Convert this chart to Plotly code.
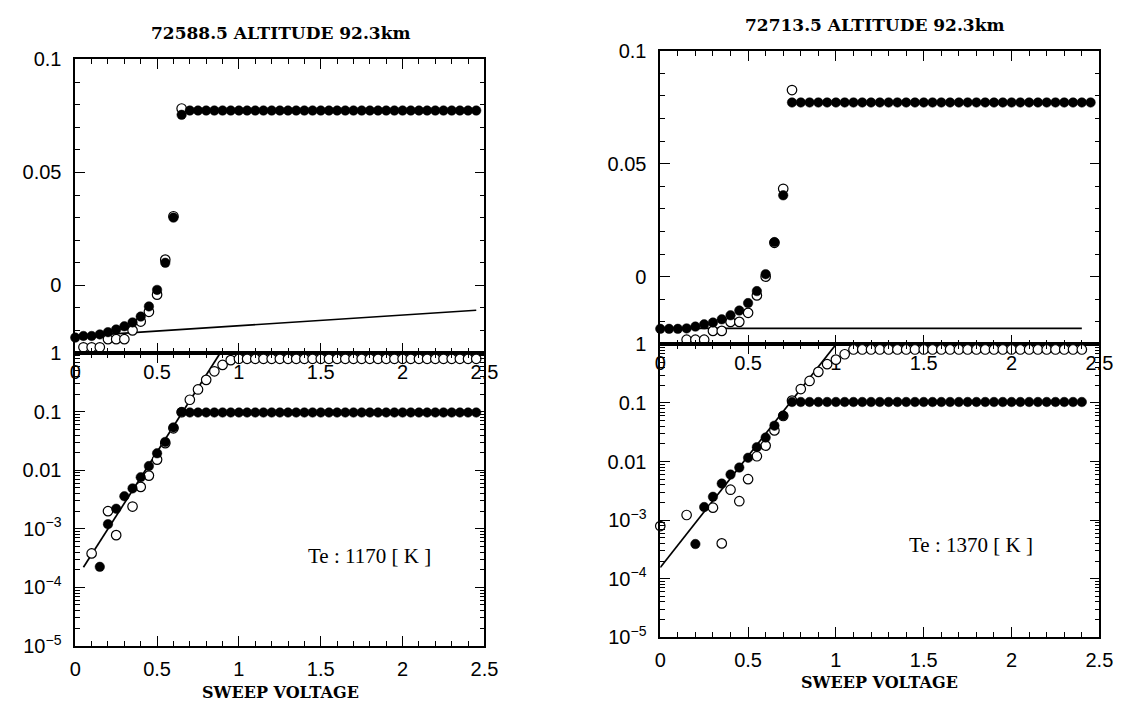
import plotly.graph_objects as go

W, H = 1135, 717

# ---------------- data ----------------
# Left: 72588.5
L_TOP_FILLED_X = [0.0, 0.05, 0.1, 0.15, 0.2, 0.25, 0.3, 0.35, 0.4, 0.45, 0.5, 0.55, 0.6, 0.65,
                  0.7, 0.75, 0.8, 0.85, 0.9, 0.95, 1.0, 1.05, 1.1, 1.15, 1.2, 1.25, 1.3, 1.35, 1.4,
                  1.45, 1.5, 1.55, 1.6, 1.65, 1.7, 1.75, 1.8, 1.85, 1.9, 1.95, 2.0, 2.05, 2.1, 2.15,
                  2.2, 2.25, 2.3, 2.35, 2.4, 2.45]
L_TOP_FILLED_Y = [-0.0231, -0.0224, -0.0224, -0.0217, -0.0207, -0.0195, -0.0181, -0.0164, -0.0138,
                  -0.0093, -0.0020, 0.0100, 0.0300, 0.0755,
                  0.0774, 0.0774, 0.0774, 0.0774, 0.0774, 0.0774, 0.0774, 0.0774, 0.0774, 0.0774,
                  0.0774, 0.0774, 0.0774, 0.0774, 0.0774, 0.0774, 0.0774, 0.0774, 0.0774, 0.0774,
                  0.0774, 0.0774, 0.0774, 0.0774, 0.0774, 0.0774, 0.0774, 0.0774, 0.0774, 0.0774,
                  0.0774, 0.0774, 0.0774, 0.0774, 0.0774, 0.0774]
L_TOP_OPEN_X = [0.05, 0.1, 0.15, 0.2, 0.25, 0.3, 0.35, 0.4, 0.45, 0.5, 0.55, 0.6, 0.65]
L_TOP_OPEN_Y = [-0.0274, -0.0274, -0.0274, -0.0238, -0.0238, -0.0238, -0.0199, -0.0160, -0.0117,
                -0.0041, 0.0114, 0.0306, 0.0783]
L_TOP_LINE_X = [0.0, 2.45]
L_TOP_LINE_Y = [-0.0226, -0.0110]

L_BOT_FILLED_X = [0.15, 0.2, 0.25, 0.3, 0.35, 0.4, 0.45, 0.5, 0.55, 0.6, 0.65,
                  0.7, 0.75, 0.8, 0.85, 0.9, 0.95, 1.0, 1.05, 1.1, 1.15, 1.2, 1.25, 1.3, 1.35, 1.4,
                  1.45, 1.5, 1.55, 1.6, 1.65, 1.7, 1.75, 1.8, 1.85, 1.9, 1.95, 2.0, 2.05, 2.1, 2.15,
                  2.2, 2.25, 2.3, 2.35, 2.4, 2.45]
L_BOT_FILLED_Y = [2.24e-4, 1.2e-3, 2.2e-3, 3.6e-3, 4.9e-3, 7.6e-3, 0.0118, 0.0195, 0.0305, 0.054, 0.099,
                  0.097, 0.097, 0.097, 0.097, 0.097, 0.097, 0.097, 0.097, 0.097, 0.097, 0.097, 0.097,
                  0.097, 0.097, 0.097, 0.097, 0.097, 0.097, 0.097, 0.097, 0.097, 0.097, 0.097, 0.097,
                  0.097, 0.097, 0.097, 0.097, 0.097, 0.097, 0.097, 0.097, 0.097, 0.097, 0.097, 0.097]
L_BOT_OPEN_X = [0.1, 0.2, 0.25, 0.35, 0.4, 0.45, 0.5, 0.55, 0.6, 0.65, 0.7, 0.75, 0.8, 0.85, 0.9, 0.95,
                1.0, 1.05, 1.1, 1.15, 1.2, 1.25, 1.3, 1.35, 1.4, 1.45, 1.5, 1.55, 1.6, 1.65, 1.7,
                1.75, 1.8, 1.85, 1.9, 1.95, 2.0, 2.05, 2.1, 2.15, 2.2, 2.25, 2.3, 2.35, 2.4, 2.45]
L_BOT_OPEN_Y = [3.8e-4, 2.0e-3, 7.8e-4, 2.4e-3, 5.2e-3, 8.1e-3, 0.0152, 0.029, 0.052, 0.098, 0.16,
                0.24, 0.35, 0.49, 0.63, 0.76,
                0.80, 0.80, 0.80, 0.80, 0.80, 0.80, 0.80, 0.80, 0.80, 0.80, 0.80, 0.80, 0.80, 0.80,
                0.80, 0.80, 0.80, 0.80, 0.80, 0.80, 0.80, 0.80, 0.80, 0.80, 0.80, 0.80, 0.80, 0.80,
                0.80, 0.80]
L_BOT_LINE_X = [0.05, 0.885]
L_BOT_LINE_Y = [2.2e-4, 1.0]

# Right: 72713.5
R_TOP_FILLED_X = L_TOP_FILLED_X
R_TOP_FILLED_Y = [-0.0231, -0.0231, -0.0231, -0.0229, -0.0221, -0.0211, -0.0203, -0.0189, -0.0171,
                  -0.0150, -0.0117, -0.0064, 0.0011, 0.0153, 0.0360,
                  0.0771, 0.0771, 0.0771, 0.0771, 0.0771, 0.0771, 0.0771, 0.0771, 0.0771, 0.0771,
                  0.0771, 0.0771, 0.0771, 0.0771, 0.0771, 0.0771, 0.0771, 0.0771, 0.0771, 0.0771,
                  0.0771, 0.0771, 0.0771, 0.0771, 0.0771, 0.0771, 0.0771, 0.0771, 0.0771, 0.0771,
                  0.0771, 0.0771, 0.0771, 0.0771, 0.0771]
R_TOP_OPEN_X = [0.15, 0.2, 0.25, 0.3, 0.35, 0.4, 0.45, 0.5, 0.55, 0.6, 0.65, 0.7, 0.75]
R_TOP_OPEN_Y = [-0.0279, -0.0279, -0.0279, -0.0240, -0.0240, -0.0200, -0.0200, -0.0160, -0.0083,
                0.0000, 0.0150, 0.0389, 0.0826]
R_TOP_LINE_X = [0.0, 2.4]
R_TOP_LINE_Y = [-0.0229, -0.0229]

R_BOT_FILLED_X = [0.2, 0.25, 0.3, 0.35, 0.4, 0.45, 0.5, 0.55, 0.6, 0.65, 0.7, 0.75,
                  0.8, 0.85, 0.9, 0.95, 1.0, 1.05, 1.1, 1.15, 1.2, 1.25, 1.3, 1.35, 1.4,
                  1.45, 1.5, 1.55, 1.6, 1.65, 1.7, 1.75, 1.8, 1.85, 1.9, 1.95, 2.0, 2.05, 2.1, 2.15,
                  2.2, 2.25, 2.3, 2.35, 2.4]
R_BOT_FILLED_Y = [3.9e-4, 1.67e-3, 2.5e-3, 4.2e-3, 6.0e-3, 7.9e-3, 0.0116, 0.0176, 0.0257, 0.041, 0.061,
                  0.104,
                  0.104, 0.104, 0.104, 0.104, 0.104, 0.104, 0.104, 0.104, 0.104, 0.104, 0.104, 0.104,
                  0.104, 0.104, 0.104, 0.104, 0.104, 0.104, 0.104, 0.104, 0.104, 0.104, 0.104, 0.104,
                  0.104, 0.104, 0.104, 0.104, 0.104, 0.104, 0.104, 0.104, 0.104]
R_BOT_OPEN_X = [0.0, 0.15, 0.3, 0.35, 0.4, 0.45, 0.5, 0.55, 0.6, 0.65, 0.7, 0.75, 0.8, 0.85, 0.9, 0.95,
                1.0, 1.05, 1.1, 1.15, 1.2, 1.25, 1.3, 1.35, 1.4, 1.45, 1.5, 1.55, 1.6, 1.65, 1.7,
                1.75, 1.8, 1.85, 1.9, 1.95, 2.0, 2.05, 2.1, 2.15, 2.2, 2.25, 2.3, 2.35, 2.4]
R_BOT_OPEN_Y = [7.9e-4, 1.22e-3, 1.63e-3, 4.0e-4, 3.3e-3, 2.1e-3, 5.0e-3, 0.0123, 0.0187, 0.034, 0.06,
                0.11, 0.173, 0.238, 0.34, 0.46, 0.55, 0.68,
                0.82, 0.82, 0.82, 0.82, 0.82, 0.82, 0.82, 0.82, 0.82, 0.82, 0.82, 0.82, 0.82, 0.82,
                0.82, 0.82, 0.82, 0.82, 0.82, 0.82, 0.82, 0.82, 0.82, 0.82, 0.82, 0.82, 0.82]
R_BOT_LINE_X = [0.0, 1.0]
R_BOT_LINE_Y = [1.55e-4, 1.0]

TITLES = ["72588.5 ALTITUDE 92.3km", "72713.5 ALTITUDE 92.3km"]
TE_LABELS = ["Te : 1170 [ K ]", "Te : 1370 [ K ]"]
XLABEL = "SWEEP VOLTAGE"

LIN_TICKVALS = [0, 0.05, 0.1]
LIN_TICKTEXT = ["0", "0.05", "0.1"]
LOG_TICKVALS = [1e-5, 1e-4, 1e-3, 1e-2, 1e-1, 1]
LOG_TICKTEXT = ["10<sup>\u22125</sup>", "10<sup>\u22124</sup>", "10<sup>\u22123</sup>", "0.01", "0.1", "1"]
LOG_MINOR = [m * d for d in [1e-5, 1e-4, 1e-3, 1e-2, 1e-1] for m in range(2, 10)]
X_TICKVALS = [0, 0.5, 1, 1.5, 2, 2.5]
X_TICKTEXT = ["0", "0.5", "1", "1.5", "2", "2.5"]

# ---------------- layout geometry (pixels of the 1135x717 target) ----------------
def px_x(a, b):
    return [a / W, b / W]

def px_y(top, bot):
    return [1 - bot / H, 1 - top / H]

PANELS = {
    "L": dict(x=(70.5, 487), top=(50, 353), bot=(353, 655)),
    "R": dict(x=(666, 1113), top=(41, 344), bot=(344, 646)),
}

fig = go.Figure()

TICKFONT = dict(family="Liberation Sans", size=20, color="black")
SERIF = "DejaVu Serif"

def axis_common():
    return dict(showline=True, linecolor="black", linewidth=1.6, mirror="ticks",
                ticks="inside", ticklen=10, tickwidth=1.4, tickcolor="black",
                showgrid=False, zeroline=False, tickfont=TICKFONT)

def add_traces(xa, ya, fx, fy, ox, oy, lx, ly):
    fig.add_trace(go.Scatter(x=lx, y=ly, mode="lines", line=dict(color="black", width=1.7),
                             xaxis=xa, yaxis=ya, showlegend=False, hoverinfo="skip"))
    fig.add_trace(go.Scatter(x=ox, y=oy, mode="markers",
                             marker=dict(symbol="circle", size=9.5, color="white",
                                         line=dict(color="black", width=1.2)),
                             xaxis=xa, yaxis=ya, showlegend=False, cliponaxis=False))
    fig.add_trace(go.Scatter(x=fx, y=fy, mode="markers",
                             marker=dict(symbol="circle", size=9.5, color="black",
                                         line=dict(color="black", width=0.5)),
                             xaxis=xa, yaxis=ya, showlegend=False, cliponaxis=False))

add_traces("x", "y", L_TOP_FILLED_X, L_TOP_FILLED_Y, L_TOP_OPEN_X, L_TOP_OPEN_Y, L_TOP_LINE_X, L_TOP_LINE_Y)
add_traces("x2", "y2", L_BOT_FILLED_X, L_BOT_FILLED_Y, L_BOT_OPEN_X, L_BOT_OPEN_Y, L_BOT_LINE_X, L_BOT_LINE_Y)
add_traces("x3", "y3", R_TOP_FILLED_X, R_TOP_FILLED_Y, R_TOP_OPEN_X, R_TOP_OPEN_Y, R_TOP_LINE_X, R_TOP_LINE_Y)
add_traces("x4", "y4", R_BOT_FILLED_X, R_BOT_FILLED_Y, R_BOT_OPEN_X, R_BOT_OPEN_Y, R_BOT_LINE_X, R_BOT_LINE_Y)

layout = dict(width=W, height=H, autosize=False, margin=dict(l=0, r=0, t=0, b=0),
              paper_bgcolor="white", plot_bgcolor="white", showlegend=False)

for i, key in enumerate(["L", "R"]):
    p = PANELS[key]
    n_top = 2 * i + 1
    n_bot = 2 * i + 2
    sx = "" if n_top == 1 else str(n_top)
    xdom = px_x(*p["x"])
    xt = axis_common()
    xt.update(domain=xdom, anchor="y" + sx, range=[0, 2.5], tickmode="array",
              tickvals=X_TICKVALS, ticktext=X_TICKTEXT, ticklabelstandoff=0,
              minor=dict(ticks="inside", dtick=0.1, ticklen=5, tickwidth=1.2, tickcolor="black"))
    yt = axis_common()
    yt.update(domain=px_y(*p["top"]), anchor="x" + sx, range=[-0.03, 0.1], tickmode="array",
              tickvals=LIN_TICKVALS, ticktext=LIN_TICKTEXT, ticklabelstandoff=8,
              minor=dict(ticks="inside", dtick=0.01, ticklen=5, tickwidth=1.2, tickcolor="black"))
    xb = axis_common()
    xb.update(domain=xdom, anchor="y" + str(n_bot), range=[0, 2.5], tickmode="array",
              tickvals=X_TICKVALS, ticktext=X_TICKTEXT, ticklabelstandoff=4,
              minor=dict(ticks="inside", dtick=0.1, ticklen=5, tickwidth=1.2, tickcolor="black"))
    yb = axis_common()
    yb.update(domain=px_y(*p["bot"]), anchor="x" + str(n_bot), type="log", range=[-5, 0],
              tickmode="array", tickvals=LOG_TICKVALS, ticktext=LOG_TICKTEXT, ticklabelstandoff=8,
              minor=dict(ticks="inside", tickmode="array", tickvals=LOG_MINOR, ticklen=5,
                         tickwidth=1.2, tickcolor="black"))
    layout["xaxis" + sx] = xt
    layout["yaxis" + sx] = yt
    layout["xaxis" + str(n_bot)] = xb
    layout["yaxis" + str(n_bot)] = yb

fig.update_layout(**layout)

ANN = [
    (TITLES[0], 279, 23, 17), (TITLES[1], 884, 14, 17),
    (XLABEL, 279, 703, 16), (XLABEL, 889, 693, 16),
]
for text, cx, cy, size in ANN:
    fig.add_annotation(text="<b>" + text + "</b>", x=cx / W, y=1 - cy / H, xref="paper", yref="paper",
                       xanchor="center", yanchor="middle", showarrow=False,
                       font=dict(family=SERIF, size=size, color="black"))
for text, cx, cy in [(TE_LABELS[0], 370, 562), (TE_LABELS[1], 982, 551)]:
    fig.add_annotation(text=text, x=cx / W, y=1 - cy / H, xref="paper", yref="paper",
                       xanchor="center", yanchor="middle", showarrow=False,
                       font=dict(family="Liberation Serif", size=21, color="black"))

POST = ("document.body.style.margin='0';document.body.style.overflow='hidden';")

fig.write_html("out.html", config={"displayModeBar": False}, post_script=POST)
